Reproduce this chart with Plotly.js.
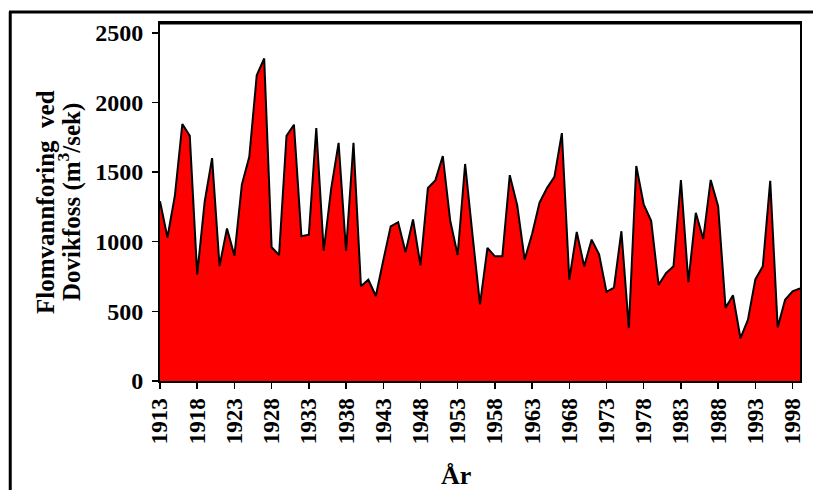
<!DOCTYPE html>
<html>
<head>
<meta charset="utf-8">
<script src="https://cdn.plot.ly/plotly-3.0.1.min.js"></script>
<style>html,body{margin:0;padding:0;background:#fff;}#chart{width:813px;height:490px;}</style>
</head>
<body>
<div id="chart"></div>
<script>
const years = [];
for (let y = 1913; y <= 1999; y++) years.push(y);

const flow = [
  1290, 1030, 1330, 1845, 1760, 765, 1285, 1600, 825, 1095,
  900, 1410, 1610, 2195, 2315, 960, 905, 1760, 1840, 1040,
  1050, 1815, 935, 1380, 1710, 935, 1710, 680, 727, 610,
  865, 1110, 1140, 925, 1160, 830, 1385, 1440, 1615, 1150,
  905, 1558, 1045, 550, 955, 895, 895, 1478, 1262, 872,
  1055, 1280, 1385, 1465, 1780, 727, 1070, 823, 1015, 910,
  640, 670, 1075, 380, 1543, 1267, 1150, 690, 775, 823,
  1443, 710, 1207, 1020, 1443, 1255, 525, 615, 307, 439,
  730, 823, 1437, 385, 583, 643, 665
];

const xTicks = [1913, 1918, 1923, 1928, 1933, 1938, 1943, 1948, 1953, 1958, 1963, 1968, 1973, 1978, 1983, 1988, 1993, 1998];
const yTicks = [0, 500, 1000, 1500, 2000, 2500];

const yTitleLine1 = 'Flomvannforing  ved';
const yTitleLine2 = 'Dovikfoss (m<sup>3</sup>/sek)';
const xTitle = 'År';

const serif = 'Liberation Serif, Times New Roman, serif';

const trace = {
  x: years,
  y: flow,
  type: 'scatter',
  mode: 'lines',
  fill: 'tozeroy',
  fillcolor: '#ff0000',
  line: {color: '#000000', width: 2}
};

const titleFont = {family: serif, size: 25, color: '#000', weight: 'bold'};

const layout = {
  width: 813,
  height: 490,
  margin: {l: 160, r: 13, t: 23, b: 109},
  paper_bgcolor: '#ffffff',
  plot_bgcolor: '#ffffff',
  showlegend: false,
  xaxis: {
    range: [1913, 1999],
    tickvals: xTicks,
    ticktext: xTicks.map(String),
    tickangle: -90,
    ticks: 'outside',
    ticklen: 6,
    tickwidth: 1.5,
    tickcolor: '#000',
    showline: true,
    linecolor: '#000',
    linewidth: 2,
    mirror: true,
    showgrid: false,
    zeroline: false,
    tickfont: {family: serif, size: 23, color: '#000', weight: 'bold'}
  },
  yaxis: {
    range: [0, 2570],
    tickvals: yTicks,
    ticktext: yTicks.map(String),
    ticks: 'outside',
    ticklen: 6,
    tickwidth: 1.5,
    tickcolor: '#000',
    ticklabelstandoff: 4,
    showline: true,
    linecolor: '#000',
    linewidth: 2,
    mirror: true,
    showgrid: false,
    zeroline: false,
    tickfont: {family: serif, size: 24, color: '#000', weight: 'bold'}
  },
  annotations: [
    {
      text: yTitleLine1,
      xref: 'paper', yref: 'paper',
      x: (45 - 160) / 640, y: 0.5,
      xanchor: 'center', yanchor: 'middle',
      textangle: -90,
      showarrow: false,
      font: titleFont
    },
    {
      text: yTitleLine2,
      xref: 'paper', yref: 'paper',
      x: (69 - 160) / 640, y: 0.5,
      xanchor: 'center', yanchor: 'middle',
      textangle: -90,
      showarrow: false,
      font: titleFont
    },
    {
      text: xTitle,
      xref: 'paper', yref: 'paper',
      x: 0.462, y: -0.265,
      xanchor: 'center', yanchor: 'middle',
      showarrow: false,
      font: {family: serif, size: 26, color: '#000', weight: 'bold'}
    }
  ],
  shapes: [
    {type: 'line', xref: 'paper', yref: 'paper', x0: -0.234, x1: -0.234, y0: -0.4, y1: 1.0307, line: {color: '#000', width: 3}},
    {type: 'line', xref: 'paper', yref: 'paper', x0: -0.236, x1: 1.03, y0: 1.0307, y1: 1.0307, line: {color: '#000', width: 3}},
    {type: 'line', xref: 'paper', yref: 'paper', x0: 0, x1: 1, y0: 1, y1: 1, line: {color: '#000', width: 3}}
  ]
};

Plotly.newPlot('chart', [trace], layout, {staticPlot: true, displayModeBar: false});
</script>
</body>
</html>
